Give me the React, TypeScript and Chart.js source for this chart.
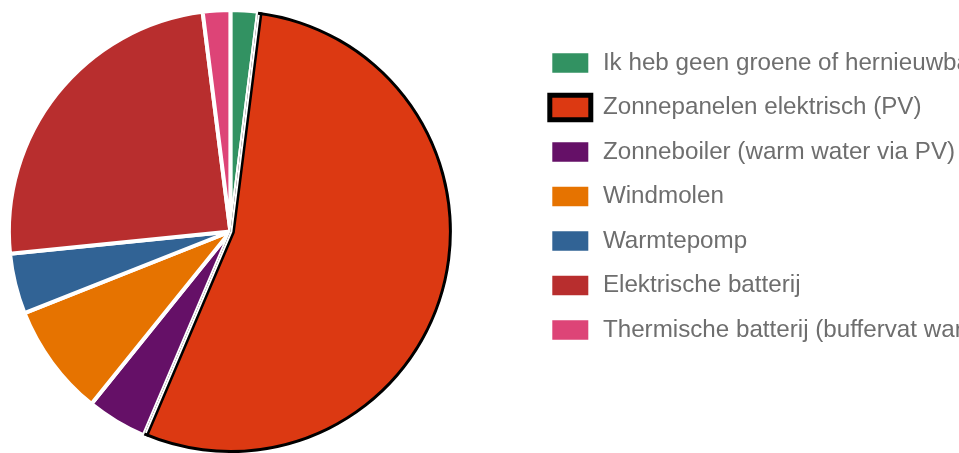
import React, { useEffect, useRef } from "react";
import { Chart, registerables } from "chart.js";

Chart.register(...registerables);

const categories = [
  "Ik heb geen groene of hernieuwbare energie",
  "Zonnepanelen elektrisch (PV)",
  "Zonneboiler (warm water via PV)",
  "Windmolen",
  "Warmtepomp",
  "Elektrische batterij",
  "Thermische batterij (buffervat warm water)",
];
const values = [2.0, 54.4, 4.4, 8.2, 4.4, 24.6, 2.0];
const colors = ["#329262", "#dc3912", "#651067", "#e67300", "#316395", "#b82e2e", "#dd4477"];
const highlightIndex = 1;

const FONT = 'Arial, "Liberation Sans", sans-serif';

const highlightPlugin = {
  id: "highlightSlice",
  afterDatasetsDraw(chart: any) {
    const meta = chart.getDatasetMeta(0);
    const arc = meta.data[highlightIndex];
    if (!arc) return;
    const { x, y, startAngle, endAngle, outerRadius } = arc.getProps(
      ["x", "y", "startAngle", "endAngle", "outerRadius"],
      true
    );
    const ctx = chart.ctx;
    ctx.save();
    ctx.beginPath();
    ctx.moveTo(x, y);
    ctx.arc(x, y, outerRadius, startAngle, endAngle);
    ctx.closePath();
    ctx.clip();
    ctx.beginPath();
    ctx.moveTo(x + Math.cos(startAngle) * outerRadius, y + Math.sin(startAngle) * outerRadius);
    ctx.lineTo(x, y);
    ctx.lineTo(x + Math.cos(endAngle) * outerRadius, y + Math.sin(endAngle) * outerRadius);
    ctx.lineJoin = "miter";
    ctx.lineWidth = 9;
    ctx.strokeStyle = "#000";
    ctx.stroke();
    ctx.lineWidth = 4;
    ctx.strokeStyle = "#fff";
    ctx.stroke();
    ctx.beginPath();
    ctx.arc(x, y, outerRadius, startAngle, endAngle);
    ctx.lineWidth = 6;
    ctx.strokeStyle = "#000";
    ctx.stroke();
    ctx.restore();
  },
};

export default function App() {
  const canvasRef = useRef<HTMLCanvasElement | null>(null);

  useEffect(() => {
    if (!canvasRef.current) return;
    const defaultGen = (Chart as any).overrides.doughnut.plugins.legend.labels.generateLabels;
    const chart = new Chart(canvasRef.current, {
      type: "pie",
      data: {
        labels: categories,
        datasets: [
          {
            data: values,
            backgroundColor: colors,
            borderColor: "#ffffff",
            borderWidth: 4,
            hoverBorderWidth: 4,
            hoverOffset: 0,
            radius: 221.5,
          } as any,
        ],
      },
      options: {
        animation: false,
        responsive: true,
        maintainAspectRatio: false,
        events: [],
        layout: { padding: { left: 0, right: 0, top: 2, bottom: 0 } },
        plugins: {
          tooltip: { enabled: false },
          legend: {
            display: true,
            position: "right",
            align: "start",
            maxWidth: 429.2,
            title: {
              display: true,
              text: "",
              font: { size: 10, family: FONT },
              padding: { top: 8.8, bottom: 0 },
            },
            labels: {
              boxWidth: 41,
              boxHeight: 24.5,
              padding: 20,
              color: "#6e6e6e",
              font: { size: 24.2, family: FONT },
              generateLabels(chart: any) {
                const items = defaultGen(chart);
                return items.map((it: any, i: number) => ({
                  ...it,
                  lineWidth: 5,
                  strokeStyle: i === highlightIndex ? "#000000" : "#ffffff",
                  fontColor: "#6e6e6e",
                }));
              },
            },
          },
        },
      } as any,
      plugins: [highlightPlugin],
    });
    return () => chart.destroy();
  }, []);

  return (
    <div style={{ position: "fixed", left: -69, top: 8, width: 1028, height: 445 }}>
      <canvas ref={canvasRef} />
    </div>
  );
}
